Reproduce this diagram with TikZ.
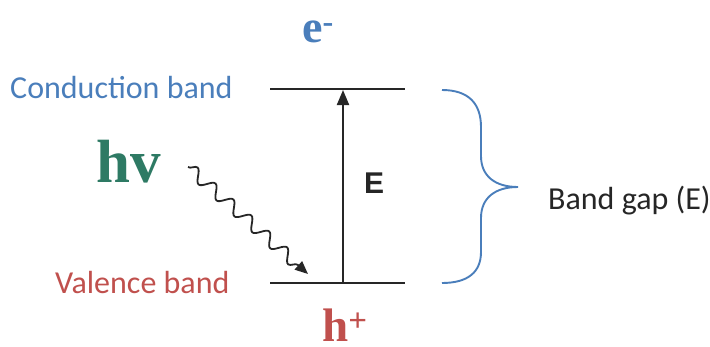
\documentclass[tikz,border=0pt]{standalone}
\usepackage{fontspec}
\setmainfont{Carlito}
\newfontfamily\serifbold{Liberation Serif}
\newfontfamily\sansbold{Liberation Sans}
\usetikzlibrary{arrows.meta,decorations.pathmorphing}
\definecolor{cbblue}{RGB}{74,126,187}
\definecolor{vbred}{RGB}{192,80,77}
\definecolor{hvgreen}{RGB}{46,122,100}
\tikzset{
  lbl/.style={inner sep=0pt, anchor=base west, font=\fontsize{32}{36}\selectfont},
  bigser/.style={inner sep=0pt, anchor=base west},
  band/.style={line width=2pt, black!85},
}
\begin{document}
\begin{tikzpicture}[x=1pt,y=-1pt]
\useasboundingbox (0,0) rectangle (710,346);
% band lines
\coordinate (cbL) at (270,89);
\coordinate (cbR) at (405,89);
\coordinate (vbL) at (270,283);
\coordinate (vbR) at (405,283);
\coordinate (aS) at (343,283);
\coordinate (aE) at (343,90);
\draw[band] (cbL) -- (cbR);
\draw[band] (vbL) -- (vbR);
\draw[band, -{Triangle[length=15pt,width=12pt]}] (aS) -- (aE);
% labels
\node[lbl, text=cbblue] (cb) at (10,98) {Conduction band};
\node[lbl, text=vbred] (vb) at (55,293) {Valence band};
\node[lbl, text=black!85] (bg) at (548,209) {Band gap (E)};
\node[bigser, text=hvgreen, font=\serifbold\bfseries\fontsize{61}{64}\selectfont] (hv) at (96,182) {hv};
\node[bigser, text=cbblue, font=\serifbold\bfseries\fontsize{46}{50}\selectfont] (em) at (302,42) {e\textsuperscript{-}};
\node[bigser, text=vbred, text depth=0pt, font=\serifbold\bfseries\fontsize{47}{50}\selectfont] (hp) at (322,341) {h\textsuperscript{+}};
\node[bigser, text=black!85, font=\sansbold\bfseries\fontsize{30}{32}\selectfont] (E) at (364,193) {E};
% wavy photon arrow
\coordinate (w1) at (188,167);
\coordinate (w2) at (308,274);
\draw[line width=1.8pt, black!85, decorate,
  decoration={snake, amplitude=6pt, segment length=24pt, post length=12pt},
  -{Triangle[length=13pt,width=11pt]}] (w1) -- (w2);
% brace
\coordinate (bT) at (442,90);
\coordinate (bB) at (442,283);
\coordinate (bM) at (518,187);
\draw[cbblue, line width=1.9pt]
  (bT) .. controls (468,90) and (481,103) .. (481,127)
  -- (481,156) .. controls (481,176) and (495,187) .. (bM)
  .. controls (495,187) and (481,198) .. (481,218)
  -- (481,252) .. controls (481,272) and (468,283) .. (bB);
\end{tikzpicture}
\end{document}
